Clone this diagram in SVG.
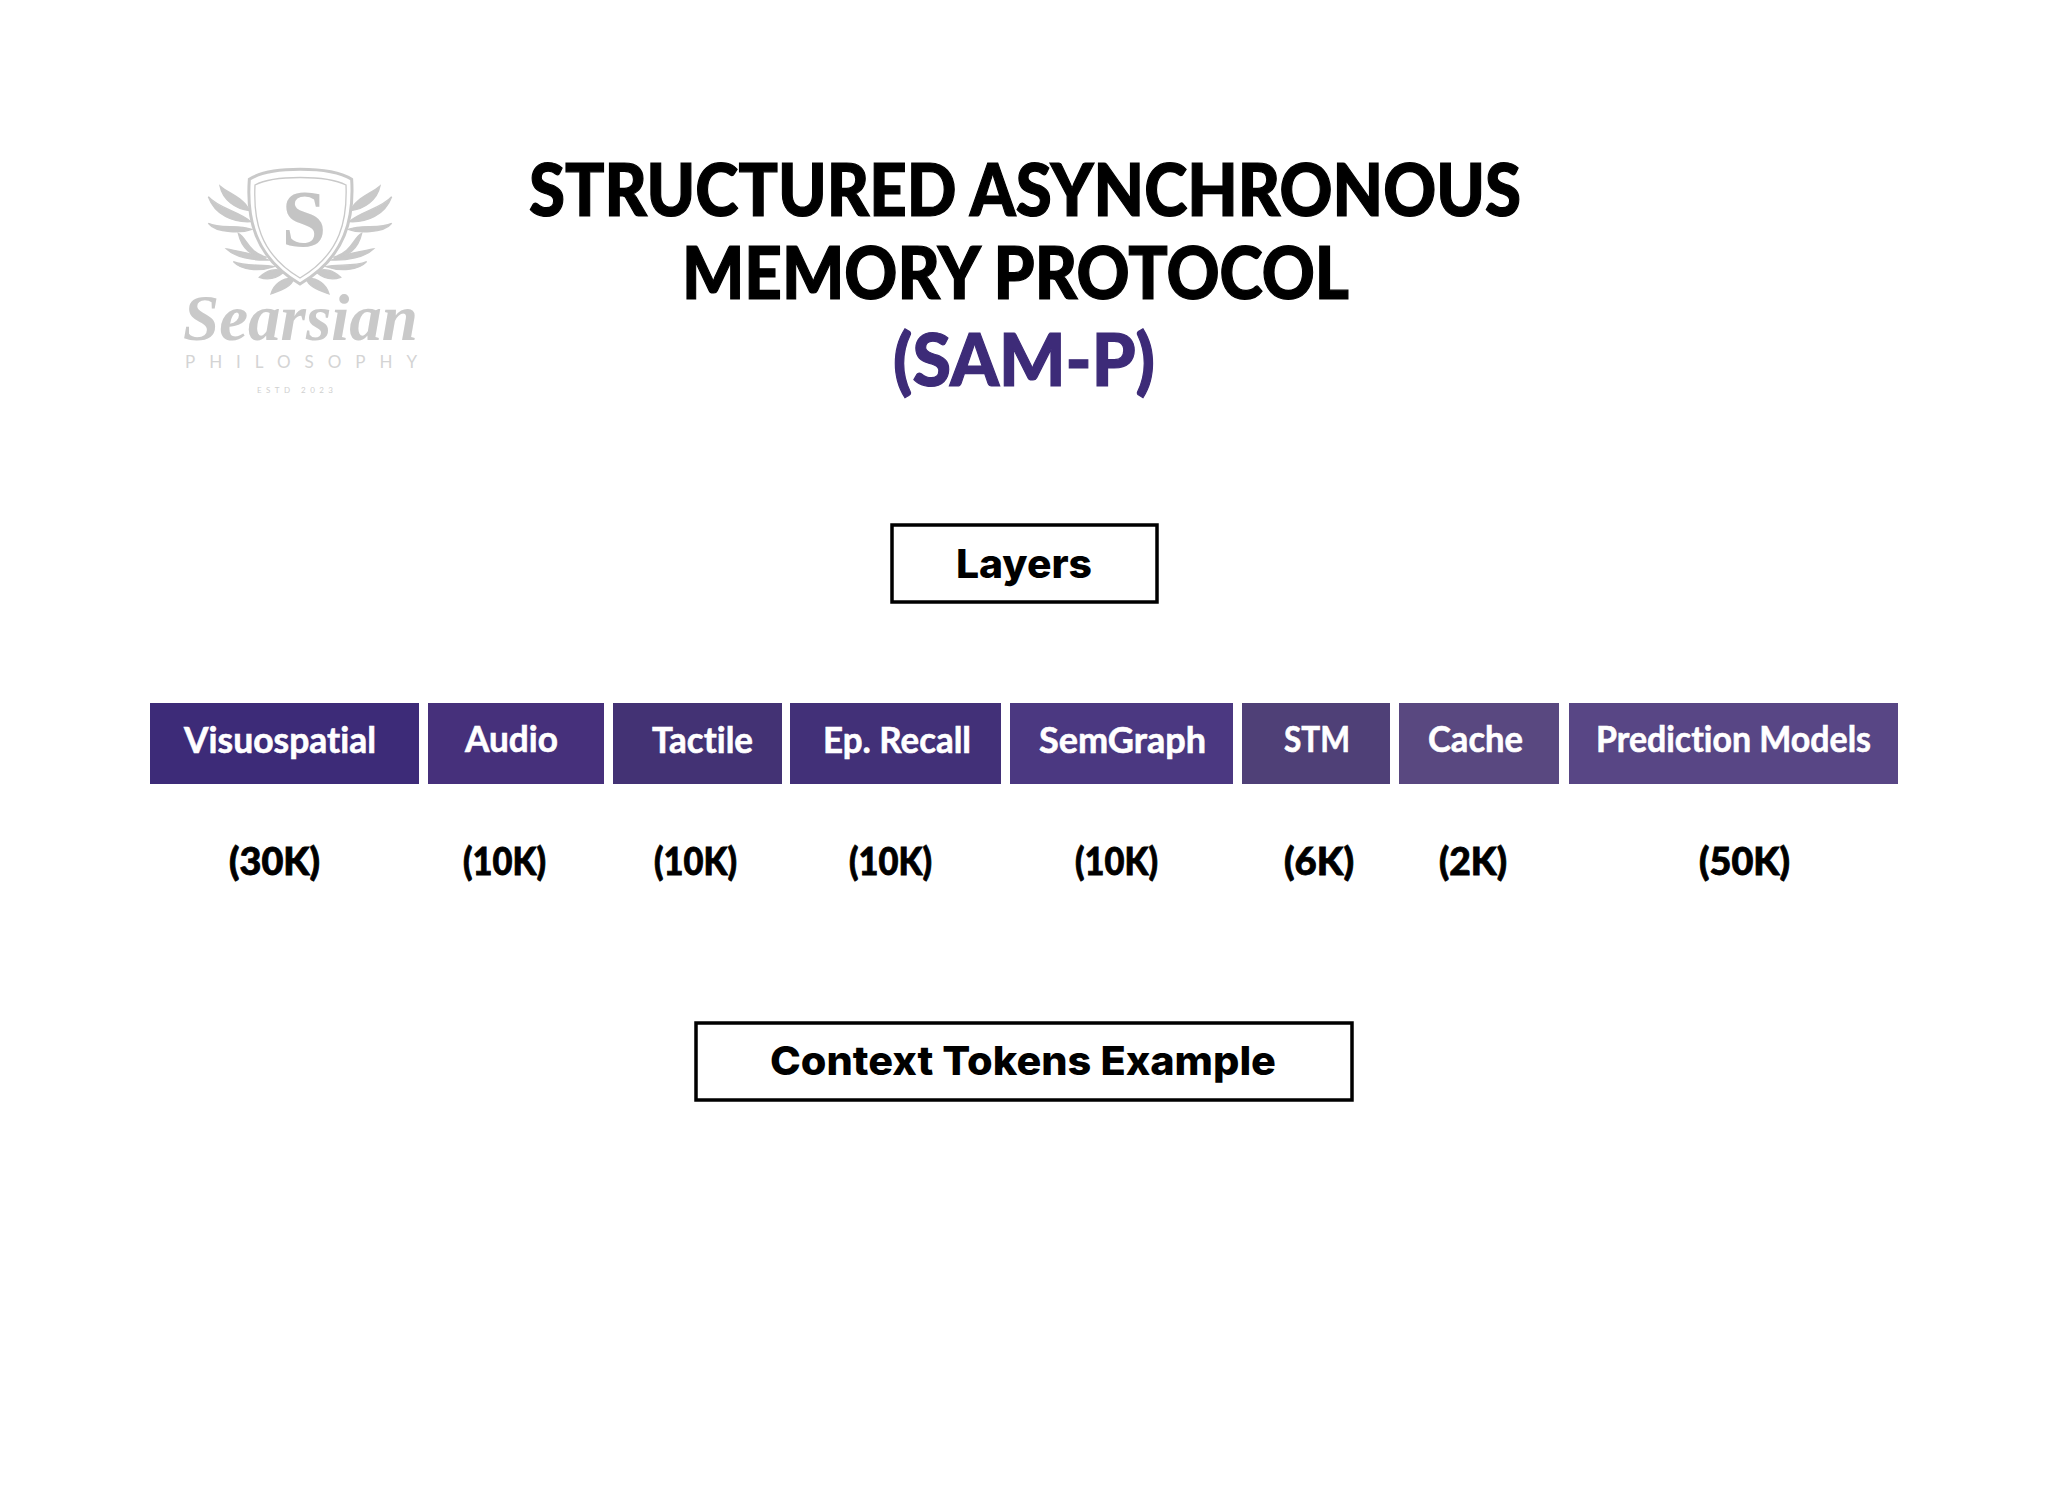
<svg xmlns="http://www.w3.org/2000/svg" width="2048" height="1500" viewBox="0 0 2048 1500">
<style>
text{font-variant-ligatures:none}
.t{font-family:"Lato","Liberation Sans",sans-serif;font-weight:900;font-size:72px;fill:#000;stroke:#000;stroke-width:1.2px}
.l{font-family:"Lato","Liberation Sans",sans-serif;font-weight:700;font-size:36px;fill:#fff;stroke:#fff;stroke-width:.6px}
.c{font-family:"Lato","Liberation Sans",sans-serif;font-weight:900;font-size:37px;fill:#000;stroke:#000;stroke-width:.8px}
.h{font-family:"Inter","Liberation Sans",sans-serif;font-weight:800;font-size:40px;fill:#000}
.b{fill:#fff;stroke:#000;stroke-width:3.5}
.g{fill:#c9c9c9;stroke:#c9c9c9;stroke-width:4}
</style>
<defs>
<g id="wing" class="g">
<path d="M180 108C205 130 255 145 268 182C228 178 188 150 180 108Z"/>
<path d="M145 140C175 175 240 185 272 215C220 218 165 195 145 140Z"/>
<path d="M145 220C180 238 235 222 275 238C250 248 170 252 145 220Z"/>
<path d="M235 250C262 265 262 305 320 322C275 322 245 295 235 250Z"/>
<path d="M200 297C240 305 290 312 325 330C280 332 225 322 200 297Z"/>
<path d="M220 335C260 352 310 340 342 350C300 365 245 362 220 335Z"/>
<path d="M298 382C320 360 350 352 372 366C350 385 325 392 298 382Z"/>
<path d="M333 432C340 405 365 383 402 385C395 410 365 420 333 432Z"/>
</g>
</defs>
<rect width="2048" height="1500" fill="#fff"/>
<g id="logo">
<g transform="translate(160,150) scale(.33333)">
<use href="#wing"/>
<use href="#wing" transform="translate(840,0) scale(-1,1)"/>
<path d="M268 88C330 48 510 48 575 88C582 200 560 320 420 402C280 320 260 200 268 88Z" fill="#fff" stroke="#c9c9c9" stroke-width="9"/>
<path d="M285 105C340 75 500 75 558 105C562 205 545 310 420 384C295 310 280 205 285 105Z" fill="none" stroke="#c9c9c9" stroke-width="4"/>
</g>
<text x="304" y="246" text-anchor="middle" style="font-family:'Liberation Serif',serif;font-weight:700;font-size:80px;fill:#c4c4c4">S</text>
<text x="183" y="340" textLength="235" lengthAdjust="spacingAndGlyphs" style="font-family:'Liberation Serif',serif;font-style:italic;font-weight:700;font-size:66px;fill:#c9c9c9">Searsian</text>
<text x="185" y="368" textLength="232" style="font-family:'Lato','Liberation Sans',sans-serif;font-size:17px;fill:#d4d4d4">PHILOSOPHY</text>
<text x="257" y="393" textLength="76" style="font-family:'Lato','Liberation Sans',sans-serif;font-size:8px;fill:#cfcfcf">ESTD 2023</text>
</g>
<g id="title">
<text class="t" x="529" y="216" textLength="992" lengthAdjust="spacingAndGlyphs">STRUCTURED ASYNCHRONOUS</text>
<text class="t" x="682" y="299" textLength="667" lengthAdjust="spacingAndGlyphs">MEMORY PROTOCOL</text>
<text class="t" x="893" y="386" textLength="262" lengthAdjust="spacingAndGlyphs" style="fill:#3d2b78;stroke:#3d2b78">(SAM-P)</text>
</g>
<g id="layers-heading">
<rect class="b" x="892" y="525" width="265" height="77"/>
<text class="h" x="956" y="578" textLength="136" lengthAdjust="spacingAndGlyphs">Layers</text>
</g>
<g id="visuospatial">
<rect x="150" y="703" width="269" height="81" fill="#3d2b78"/>
<text class="l" x="184" y="753" textLength="192" lengthAdjust="spacingAndGlyphs">Visuospatial</text>
<text class="c" x="229" y="875" textLength="91" lengthAdjust="spacingAndGlyphs">(30K)</text>
</g>
<g id="audio">
<rect x="428" y="703" width="176" height="81" fill="#46307b"/>
<text class="l" x="465" y="752" textLength="93" lengthAdjust="spacingAndGlyphs">Audio</text>
<text class="c" x="463" y="875" textLength="83" lengthAdjust="spacingAndGlyphs">(10K)</text>
</g>
<g id="tactile">
<rect x="613" y="703" width="169" height="81" fill="#433274"/>
<text class="l" x="652" y="753" textLength="101" lengthAdjust="spacingAndGlyphs">Tactile</text>
<text class="c" x="654" y="875" textLength="83" lengthAdjust="spacingAndGlyphs">(10K)</text>
</g>
<g id="ep-recall">
<rect x="790" y="703" width="211" height="81" fill="#423078"/>
<text class="l" x="823" y="753" textLength="148" lengthAdjust="spacingAndGlyphs">Ep. Recall</text>
<text class="c" x="849" y="875" textLength="83" lengthAdjust="spacingAndGlyphs">(10K)</text>
</g>
<g id="semgraph">
<rect x="1010" y="703" width="223" height="81" fill="#4b3881"/>
<text class="l" x="1039" y="753" textLength="167" lengthAdjust="spacingAndGlyphs">SemGraph</text>
<text class="c" x="1075" y="875" textLength="83" lengthAdjust="spacingAndGlyphs">(10K)</text>
</g>
<g id="stm">
<rect x="1242" y="703" width="148" height="81" fill="#4f4077"/>
<text class="l" x="1284" y="752" textLength="66" lengthAdjust="spacingAndGlyphs">STM</text>
<text class="c" x="1284" y="875" textLength="70" lengthAdjust="spacingAndGlyphs">(6K)</text>
</g>
<g id="cache">
<rect x="1399" y="703" width="160" height="81" fill="#594880"/>
<text class="l" x="1428" y="752" textLength="95" lengthAdjust="spacingAndGlyphs">Cache</text>
<text class="c" x="1439" y="875" textLength="68" lengthAdjust="spacingAndGlyphs">(2K)</text>
</g>
<g id="prediction-models">
<rect x="1569" y="703" width="329" height="81" fill="#584685"/>
<text class="l" x="1596" y="752" textLength="275" lengthAdjust="spacingAndGlyphs">Prediction Models</text>
<text class="c" x="1699" y="875" textLength="91" lengthAdjust="spacingAndGlyphs">(50K)</text>
</g>
<g id="context-heading">
<rect class="b" x="696" y="1023" width="656" height="77"/>
<text class="h" x="770" y="1075" textLength="506" lengthAdjust="spacingAndGlyphs">Context Tokens Example</text>
</g>
</svg>
